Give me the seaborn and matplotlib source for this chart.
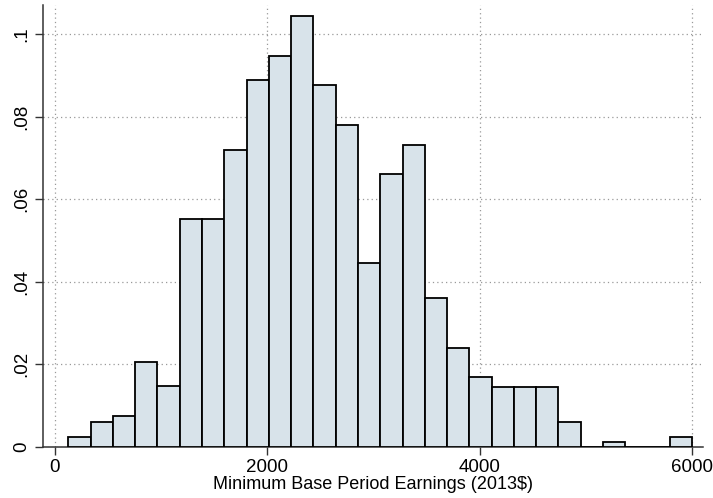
import matplotlib
matplotlib.use("Agg")
import matplotlib.pyplot as plt
import numpy as np
import pandas as pd
import seaborn as sns

bin_start = 125.0
bin_end = 6000.0
fractions = [
    0.0024, 0.0061, 0.0074, 0.0205, 0.0146, 0.0552, 0.0552, 0.0720,
    0.0888, 0.0947, 0.1045, 0.0876, 0.0781, 0.0445, 0.0661, 0.0732,
    0.0360, 0.0240, 0.0169, 0.0145, 0.0145, 0.0145, 0.0060, 0.0,
    0.0012, 0.0, 0.0, 0.0024,
]
x_ticks = [0, 2000, 4000, 6000]
y_ticks = [0, 0.02, 0.04, 0.06, 0.08, 0.1]
y_tick_labels = ["0", ".02", ".04", ".06", ".08", ".1"]

n_bins = len(fractions)
edges = np.linspace(bin_start, bin_end, n_bins + 1)
df = pd.DataFrame({
    "earnings": (edges[:-1] + edges[1:]) / 2,
    "fraction": fractions,
})

sns.set_style("white")
plt.rcParams["font.family"] = ["Liberation Sans", "DejaVu Sans"]

fig = plt.figure(figsize=(7.13, 4.98), dpi=100)
ax = fig.add_axes([0.0603, 0.103, 0.9257, 0.887])

sns.histplot(
    data=df,
    x="earnings",
    weights="fraction",
    bins=n_bins,
    binrange=(bin_start, bin_end),
    stat="count",
    color="#d8e3ea",
    alpha=1,
    edgecolor="black",
    linewidth=1.3,
    ax=ax,
    zorder=3,
)

ax.set_xlim(-113, 6102)
ax.set_ylim(0, 0.1071)
ax.set_xticks(x_ticks)
ax.set_yticks(y_ticks)
ax.set_yticklabels(y_tick_labels, rotation=90, va="center")
ax.tick_params(axis="both", direction="out", length=6, width=1, color="#333333",
               labelsize=13.5, labelcolor="black", pad=3, bottom=True, left=True)
ax.grid(True, linestyle=(0, (1, 2.5)), color="#999999", linewidth=0.9, zorder=0)
ax.set_axisbelow(True)

for side in ["top", "right"]:
    ax.spines[side].set_visible(False)
for side in ["left", "bottom"]:
    ax.spines[side].set_color("#333333")
    ax.spines[side].set_linewidth(1.1)

ax.set_xlabel("Minimum Base Period Earnings (2013$)", fontsize=13, color="black",
              labelpad=0)
ax.set_ylabel("")

fig.savefig("out.png", dpi=100)
